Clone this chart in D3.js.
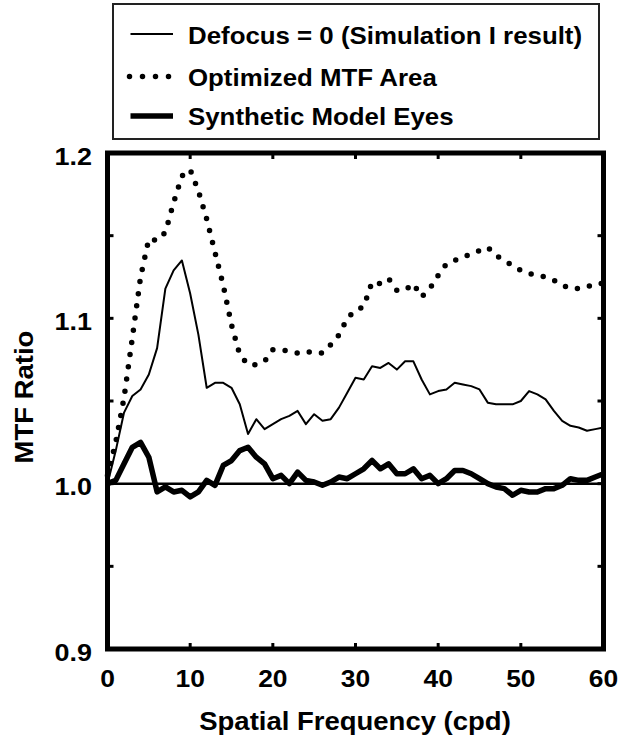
<!DOCTYPE html>
<html>
<head>
<meta charset="utf-8">
<script src="https://cdn.jsdelivr.net/npm/d3@7"></script>
<style>
  body { margin:0; background:#fff; }
  svg text { font-family:"Liberation Sans", Arial, Helvetica, sans-serif; font-weight:bold; fill:#000; }
</style>
</head>
<body>
<svg class="chart"></svg>
<script>
// spatial frequency (cpd)
var freq = d3.range(0, 61);

// Defocus = 0 (Simulation I result)
var defocus0 = [1.000,1.020,1.043,1.053,1.057,1.066,1.082,1.118,1.129,1.135,
  1.115,1.090,1.058,1.061,1.061,1.058,1.048,1.030,1.039,1.033,
  1.036,1.039,1.041,1.044,1.036,1.042,1.038,1.039,1.046,1.055,
  1.064,1.063,1.071,1.070,1.073,1.069,1.074,1.074,1.063,1.054,
  1.056,1.057,1.061,1.060,1.059,1.057,1.049,1.048,1.048,1.048,
  1.050,1.056,1.054,1.051,1.044,1.038,1.035,1.034,1.032,1.033,1.034];

// Optimized MTF Area
var optimized = [1.005,1.025,1.052,1.088,1.125,1.148,1.147,1.152,1.170,1.186,
  1.190,1.177,1.160,1.140,1.120,1.096,1.078,1.072,1.072,1.074,
  1.081,1.081,1.080,1.079,1.080,1.079,1.079,1.084,1.090,1.100,
  1.105,1.107,1.122,1.121,1.124,1.117,1.117,1.121,1.113,1.118,
  1.126,1.133,1.135,1.137,1.139,1.141,1.143,1.138,1.135,1.132,
  1.129,1.127,1.126,1.125,1.123,1.120,1.118,1.118,1.119,1.121,1.121];

// Synthetic Model Eyes
var synthetic = [1.000,1.002,1.012,1.022,1.025,1.016,0.995,0.998,0.995,0.996,
  0.992,0.995,1.002,0.999,1.011,1.014,1.020,1.022,1.016,1.012,
  1.003,1.005,1.000,1.007,1.002,1.001,0.999,1.001,1.004,1.003,
  1.006,1.009,1.014,1.009,1.012,1.006,1.006,1.009,1.003,1.005,
  1.000,1.003,1.008,1.008,1.006,1.003,1.000,0.998,0.997,0.993,
  0.996,0.995,0.995,0.997,0.997,0.999,1.003,1.002,1.002,1.004,1.006];

var xTicks = [0,10,20,30,40,50,60];
var yTicks = [0.9,1.0,1.1,1.2];
var yMinor = [0.95,1.0,1.05,1.1,1.15];

var legendNames = ["Defocus = 0 (Simulation I result)","Optimized MTF Area","Synthetic Model Eyes"];

var width = 619, height = 740;
var svg = d3.select(".chart").attr("width", width).attr("height", height);

var x = d3.scaleLinear().domain([0,60]).range([107.5,603.5]);
var y = d3.scaleLinear().domain([0.9,1.2]).range([649,153]);

// the lettering in the figure is a bit wider than Arial, so stretch it a little
function label(tx, ty, str, size, anchor, rot){
  var t = "translate(" + tx + "," + ty + ")" + (rot ? " rotate(" + rot + ")" : "") + " scale(1.1,1)";
  return svg.append("text")
    .attr("transform", t)
    .attr("text-anchor", anchor || "start")
    .attr("font-size", size + "px")
    .text(str);
}

function pts(vals){
  return freq.map(function(f,i){ return [f, vals[i]]; });
}
var line = d3.line()
  .x(function(d){ return x(d[0]); })
  .y(function(d){ return y(d[1]); });

// reference line at 1.0
svg.append("line")
  .attr("x1", x(0)).attr("x2", x(60))
  .attr("y1", y(1)).attr("y2", y(1))
  .attr("stroke","#000").attr("stroke-width",2.5);

var styles = [
  {w:2, dash:null, cap:"butt"},
  {w:5.5, dash:"0,12.3", cap:"round"},
  {w:5.5, dash:null, cap:"butt"}
];
var series = [defocus0, optimized, synthetic];

series.forEach(function(s,i){
  svg.append("path")
    .attr("d", line(pts(s)))
    .attr("fill","none")
    .attr("stroke","#000")
    .attr("stroke-width", styles[i].w)
    .attr("stroke-linecap", styles[i].cap)
    .attr("stroke-linejoin","round")
    .attr("stroke-dasharray", styles[i].dash);
});

// frame
svg.append("rect")
  .attr("x", x(0)).attr("y", y(1.2))
  .attr("width", x(60)-x(0)).attr("height", y(0.9)-y(1.2))
  .attr("fill","none").attr("stroke","#000").attr("stroke-width",5);

// inner ticks
xTicks.slice(1,-1).forEach(function(t){
  svg.append("line").attr("x1",x(t)).attr("x2",x(t))
    .attr("y1",y(0.9)).attr("y2",y(0.9)-6)
    .attr("stroke","#000").attr("stroke-width",3);
  svg.append("line").attr("x1",x(t)).attr("x2",x(t))
    .attr("y1",y(1.2)).attr("y2",y(1.2)+6)
    .attr("stroke","#000").attr("stroke-width",3);
});
yMinor.forEach(function(t){
  svg.append("line").attr("x1",x(0)).attr("x2",x(0)+6)
    .attr("y1",y(t)).attr("y2",y(t))
    .attr("stroke","#000").attr("stroke-width",3);
  svg.append("line").attr("x1",x(60)).attr("x2",x(60)-6)
    .attr("y1",y(t)).attr("y2",y(t))
    .attr("stroke","#000").attr("stroke-width",3);
});

// tick labels
xTicks.forEach(function(d){
  label(x(d), 687, d, 24, "middle");
});
yTicks.forEach(function(d){
  label(92, y(d)+11.5, d.toFixed(1), 24.5, "end");
});

// axis titles
label(355, 730, "Spatial Frequency (cpd)", 25, "middle");
label(33, 397, "MTF Ratio", 25, "middle", -90);

// legend
svg.append("rect")
  .attr("x",113).attr("y",4).attr("width",486).attr("height",135)
  .attr("fill","#fff").attr("stroke","#222").attr("stroke-width",2);

var ly = [34, 76.5, 116];
legendNames.forEach(function(name,i){
  svg.append("line")
    .attr("x1", i==1 ? 129.5 : 130.5).attr("x2", i==1 ? 169 : 173)
    .attr("y1", ly[i]).attr("y2", ly[i])
    .attr("stroke","#000")
    .attr("stroke-width", styles[i].w)
    .attr("stroke-linecap", styles[i].cap)
    .attr("stroke-dasharray", i==1 ? "0,13" : null);
  label(188, ly[i] + (i==0 ? 10.3 : 9), name, 23.5);
});
</script>
</body>
</html>
